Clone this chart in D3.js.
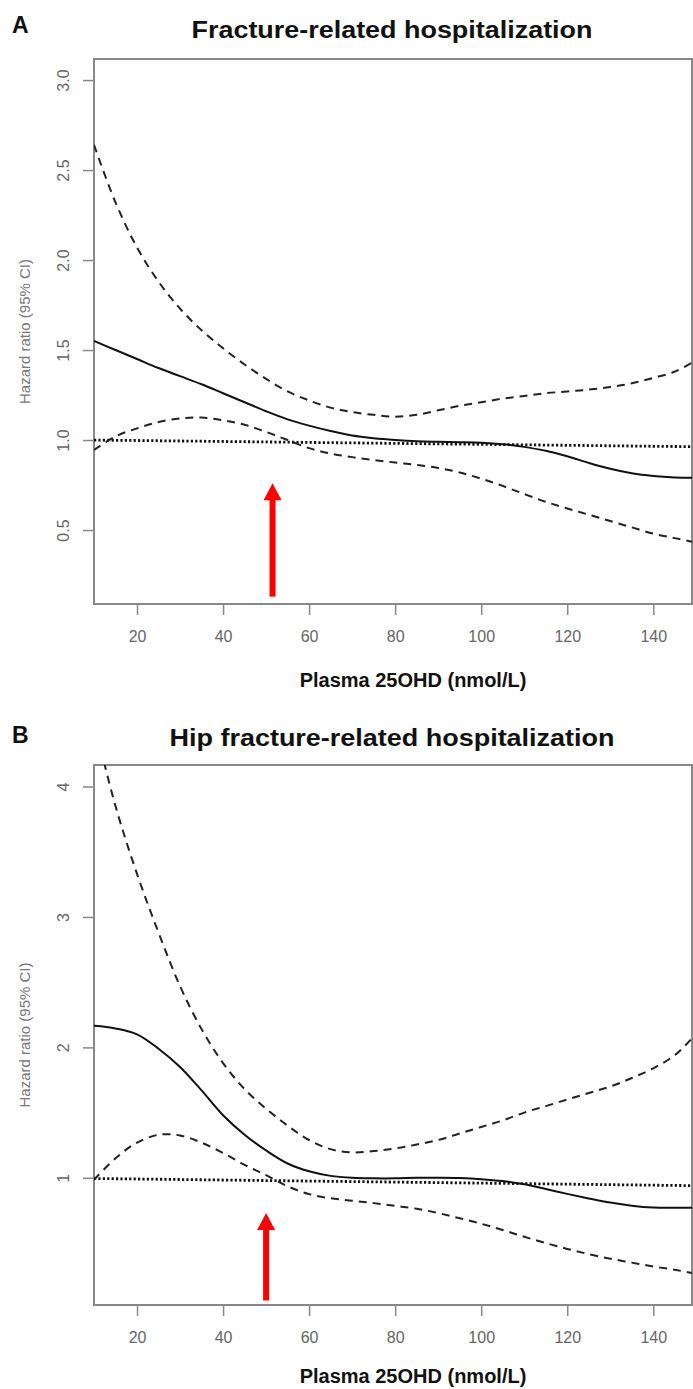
<!DOCTYPE html>
<html>
<head>
<meta charset="utf-8">
<script src="https://cdn.jsdelivr.net/npm/d3@7"></script>
<style>
  body { margin: 0; background: #fff; }
  svg text { font-family: "Liberation Sans", Arial, sans-serif; }
</style>
</head>
<body>
<div id="chart"></div>
<script>
// ---- data ----
var xGrid = [10, 15, 20, 25, 30, 35, 40, 45, 50, 55, 60, 65, 70, 75, 80, 85, 90, 95, 100,
    105, 110, 115, 120, 125, 130, 135, 140, 145, 149];

// panel A: fracture-related hospitalization
var hrA = [1.55, 1.50, 1.45, 1.40, 1.355, 1.31, 1.26, 1.21, 1.16, 1.115, 1.08, 1.05, 1.025, 1.01, 1.0,
    0.993, 0.99, 0.988, 0.985, 0.977, 0.962, 0.94, 0.91, 0.873, 0.84, 0.815, 0.80, 0.792, 0.79];
var upperA = [2.64, 2.32, 2.07, 1.88, 1.73, 1.61, 1.51, 1.42, 1.34, 1.27, 1.22, 1.18, 1.155, 1.14, 1.13,
    1.14, 1.165, 1.19, 1.21, 1.23, 1.245, 1.26, 1.27, 1.28, 1.295, 1.315, 1.345, 1.38, 1.43];
var lowerA = [0.945, 1.02, 1.065, 1.10, 1.12, 1.125, 1.11, 1.085, 1.045, 1.0, 0.955, 0.925, 0.905, 0.889, 0.875,
    0.862, 0.845, 0.82, 0.785, 0.745, 0.70, 0.657, 0.62, 0.585, 0.55, 0.515, 0.48, 0.455, 0.435];
var refXA = [10, 149];
var refA = [1.0, 0.963];
var yTicksA = [0.5, 1.0, 1.5, 2.0, 2.5, 3.0];
var yDomainA = [0.089, 3.117];
var arrowA = { x: 51.5, from: 0.13, to: 0.76 };

// panel B: hip fracture-related hospitalization
var hrB = [2.165, 2.145, 2.10, 1.99, 1.85, 1.67, 1.48, 1.33, 1.21, 1.11, 1.05, 1.015, 1.0, 0.996, 0.996,
    1.0, 1.0, 0.998, 0.99, 0.975, 0.95, 0.915, 0.877, 0.842, 0.81, 0.786, 0.772, 0.77, 0.77];
var upperB = [4.5, 3.85, 3.33, 2.88, 2.47, 2.14, 1.88, 1.68, 1.53, 1.40, 1.29, 1.22, 1.195, 1.205, 1.225,
    1.255, 1.29, 1.34, 1.39, 1.44, 1.50, 1.55, 1.60, 1.65, 1.70, 1.765, 1.84, 1.94, 2.07];
var lowerB = [0.985, 1.15, 1.27, 1.33, 1.325, 1.27, 1.19, 1.10, 1.02, 0.935, 0.875, 0.843, 0.825, 0.806, 0.785,
    0.763, 0.73, 0.69, 0.648, 0.60, 0.548, 0.50, 0.455, 0.415, 0.38, 0.35, 0.32, 0.295, 0.27];
var refXB = [10, 149];
var refB = [0.995, 0.94];
var yTicksB = [1, 2, 3, 4];
var yDomainB = [0.025, 4.165];
var arrowB = { x: 50, from: 0.06, to: 0.73 };

var xTicks = [20, 40, 60, 80, 100, 120, 140];
var xDomain = [10, 149];
var xTitle = "Plasma 25OHD (nmol/L)";
var yTitle = "Hazard ratio (95% CI)";

var svgWidth = 693;
var svgHeight = 1389;

var svg = d3.select("#chart")
    .append("svg")
    .attr("width", svgWidth)
    .attr("height", svgHeight);

var panels = [
    { id: "A", letter: "A", title: "Fracture-related hospitalization", titleLen: 401,
      top: 59, bottom: 604, hr: hrA, upper: upperA, lower: lowerA, refX: refXA, ref: refA,
      yTicks: yTicksA, yDomain: yDomainA, yFmt: d3.format(".1f"), arrow: arrowA,
      letterY: 33, titleY: 38, xTitleY: 687 },
    { id: "B", letter: "B", title: "Hip fracture-related hospitalization", titleLen: 445,
      top: 765, bottom: 1305, hr: hrB, upper: upperB, lower: lowerB, refX: refXB, ref: refB,
      yTicks: yTicksB, yDomain: yDomainB, yFmt: d3.format("d"), arrow: arrowB,
      letterY: 743, titleY: 746, xTitleY: 1383 }
];

var left = 94;
var right = 692;

function drawPanel(p) {
    var x = d3.scaleLinear().domain(xDomain).range([left, right]);
    var y = d3.scaleLinear().domain(p.yDomain).range([p.bottom, p.top]);

    var g = svg.append("g");

    g.append("clipPath")
        .attr("id", "clip" + p.id)
        .append("rect")
        .attr("x", left)
        .attr("y", p.top)
        .attr("width", right - left)
        .attr("height", p.bottom - p.top);

    // panel letter and title
    g.append("text")
        .attr("x", 12)
        .attr("y", p.letterY)
        .attr("font-size", "23px")
        .attr("font-weight", "bold")
        .attr("fill", "#111")
        .text(p.letter);

    g.append("text")
        .attr("x", 392)
        .attr("y", p.titleY)
        .attr("text-anchor", "middle")
        .attr("font-size", "23px")
        .attr("font-weight", "bold")
        .attr("fill", "#111")
        .attr("textLength", p.titleLen)
        .attr("lengthAdjust", "spacingAndGlyphs")
        .text(p.title);

    // axes
    var xAxis = g.append("g")
        .attr("transform", `translate(0, ${p.bottom})`)
        .call(d3.axisBottom(x).tickValues(xTicks).tickSize(11).tickPadding(16).tickSizeOuter(0));

    var yAxis = g.append("g")
        .attr("transform", `translate(${left}, 0)`)
        .call(d3.axisLeft(y).tickValues(p.yTicks).tickFormat(p.yFmt).tickSize(11).tickSizeOuter(0));

    [xAxis, yAxis].forEach(function (a) {
        a.select(".domain").remove();
        a.selectAll(".tick line").attr("stroke", "#888").attr("stroke-width", 1.5);
        a.selectAll(".tick text")
            .attr("fill", "#666")
            .attr("font-size", "16px")
            .attr("font-family", "'Liberation Sans', Arial, sans-serif");
    });

    // y tick labels run along the axis
    yAxis.selectAll(".tick text")
        .attr("x", null)
        .attr("dy", null)
        .attr("text-anchor", "middle")
        .attr("transform", "translate(-25, 0) rotate(-90)");

    // plot box
    g.append("rect")
        .attr("x", left)
        .attr("y", p.top)
        .attr("width", right - left)
        .attr("height", p.bottom - p.top)
        .attr("fill", "none")
        .attr("stroke", "#888")
        .attr("stroke-width", 2);

    // axis titles
    g.append("text")
        .attr("x", 413)
        .attr("y", p.xTitleY)
        .attr("text-anchor", "middle")
        .attr("font-size", "20px")
        .attr("font-weight", "bold")
        .attr("fill", "#111")
        .text(xTitle);

    g.append("text")
        .attr("transform", `translate(30, ${(p.top + p.bottom) / 2}) rotate(-90)`)
        .attr("text-anchor", "middle")
        .attr("font-size", "15px")
        .attr("fill", "#777")
        .text(yTitle);

    // curves
    var line = d3.line()
        .x(d => x(d[0]))
        .y(d => y(d[1]))
        .curve(d3.curveCatmullRom);

    var curves = g.append("g").attr("clip-path", `url(#clip${p.id})`);

    curves.append("path")
        .datum(p.refX.map((v, i) => [v, p.ref[i]]))
        .attr("d", line)
        .attr("fill", "none")
        .attr("stroke", "#111")
        .attr("stroke-width", 2.8)
        .attr("stroke-dasharray", "2.2,2.2");

    [p.upper, p.lower].forEach(function (s) {
        curves.append("path")
            .datum(xGrid.map((v, i) => [v, s[i]]))
            .attr("d", line)
            .attr("fill", "none")
            .attr("stroke", "#222")
            .attr("stroke-width", 2)
            .attr("stroke-dasharray", "8,6");
    });

    curves.append("path")
        .datum(xGrid.map((v, i) => [v, p.hr[i]]))
        .attr("d", line)
        .attr("fill", "none")
        .attr("stroke", "#111")
        .attr("stroke-width", 2);

    // red arrow marking the threshold
    var ax = x(p.arrow.x);
    var tip = y(p.arrow.to);
    g.append("line")
        .attr("x1", ax)
        .attr("x2", ax)
        .attr("y1", y(p.arrow.from))
        .attr("y2", tip + 14)
        .attr("stroke", "#ff0000")
        .attr("stroke-width", 6);

    g.append("path")
        .attr("d", `M${ax},${tip} L${ax - 9},${tip + 17} L${ax + 9},${tip + 17} Z`)
        .attr("fill", "#ff0000");
}

panels.forEach(drawPanel);
</script>
</body>
</html>
